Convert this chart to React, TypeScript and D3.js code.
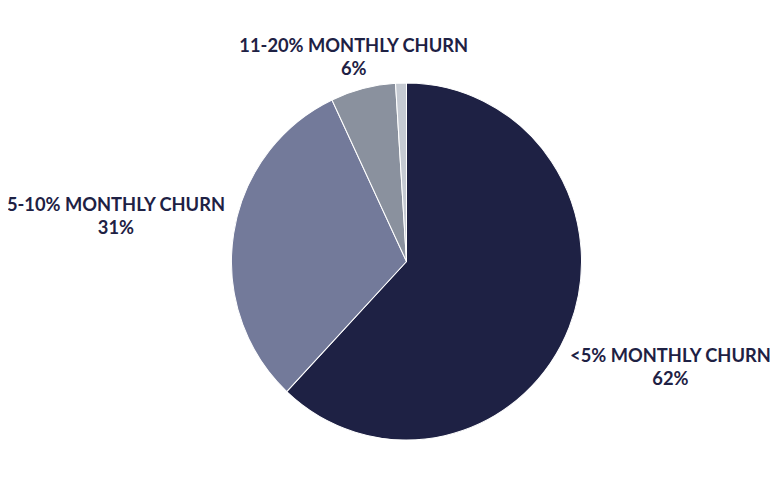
import { useEffect, useRef } from 'react'
import * as d3 from 'd3'

const categories = ['<5% MONTHLY CHURN', '5-10% MONTHLY CHURN', '11-20% MONTHLY CHURN', '>20% MONTHLY CHURN']
const shares = [62, 31, 6, 1]
const shareLabels = ['62%', '31%', '6%', '']
const colors = ['#1e2144', '#737a9a', '#8a919e', '#c5cad2']

const W = 780
const H = 492

export default function App() {
  const svgRef = useRef<SVGSVGElement>(null)

  useEffect(() => {
    if (!svgRef.current) return
    const svg = d3.select(svgRef.current)
    svg.selectAll('*').remove()

    const cx = 406.5
    const cy = 261.5
    const radius = 175
    const squash = 1.02 // the picture is a touch taller than wide
    const gap = 8
    const edge = 3

    const data = categories.map((name, i) => ({ name, value: shares[i], label: shareLabels[i], color: colors[i] }))

    const pie = d3.pie<typeof data[number]>()
      .value(d => d.value)
      .sort(null)

    const arc = d3.arc<d3.PieArcDatum<typeof data[number]>>()
      .innerRadius(0)
      .outerRadius(radius)

    const root = svg.append('g').attr('transform', `translate(${cx},${cy})`)
    const g = root.append('g').attr('transform', `scale(1,${squash})`)
    const arcs = pie(data)

    g.selectAll('path')
      .data(arcs)
      .enter()
      .append('path')
      .attr('d', arc)
      .attr('fill', d => d.data.color)
      .attr('stroke', '#ffffff')
      .attr('stroke-width', 1)
      .attr('stroke-linejoin', 'round')

    // labels: push each label box out along its mid-angle until its
    // nearest point sits just outside the pie, then keep it on the page
    arcs.forEach(a => {
      if (!a.data.label) return
      const mid = (a.startAngle + a.endAngle) / 2
      const ux = Math.sin(mid)
      const uy = -Math.cos(mid)

      const t = root.append('text')
        .attr('text-anchor', 'middle')
        .attr('font-family', 'Lato, "Noto Sans", sans-serif')
        .attr('font-weight', 700)
        .attr('font-size', '18.3px')
        .attr('fill', '#1e2144')
      t.append('tspan').attr('x', 0).attr('dy', 0).text(a.data.name)
      t.append('tspan').attr('x', 0).attr('dy', 23).text(a.data.label)

      const box = (t.node() as SVGTextElement).getBBox()
      const hw = box.width / 2
      const hh = box.height / 2
      const offY = box.y + hh

      const dist = (d: number) => {
        const px = Math.abs(ux * d)
        const py = Math.abs(uy * d)
        return Math.hypot(Math.max(px - hw, 0), Math.max(py - hh, 0))
      }
      let lo = 0
      let hi = 600
      for (let k = 0; k < 50; k++) {
        const m = (lo + hi) / 2
        if (dist(m) < radius + gap) lo = m
        else hi = m
      }
      const x = Math.min(Math.max(ux * hi, edge + hw - cx), W - edge - hw - cx)
      t.attr('transform', `translate(${x},${uy * hi - offY})`)
    })
  }, [])

  return (
    <svg ref={svgRef} width={W} height={H} style={{ display: 'block', margin: '-8px' }} />
  )
}
